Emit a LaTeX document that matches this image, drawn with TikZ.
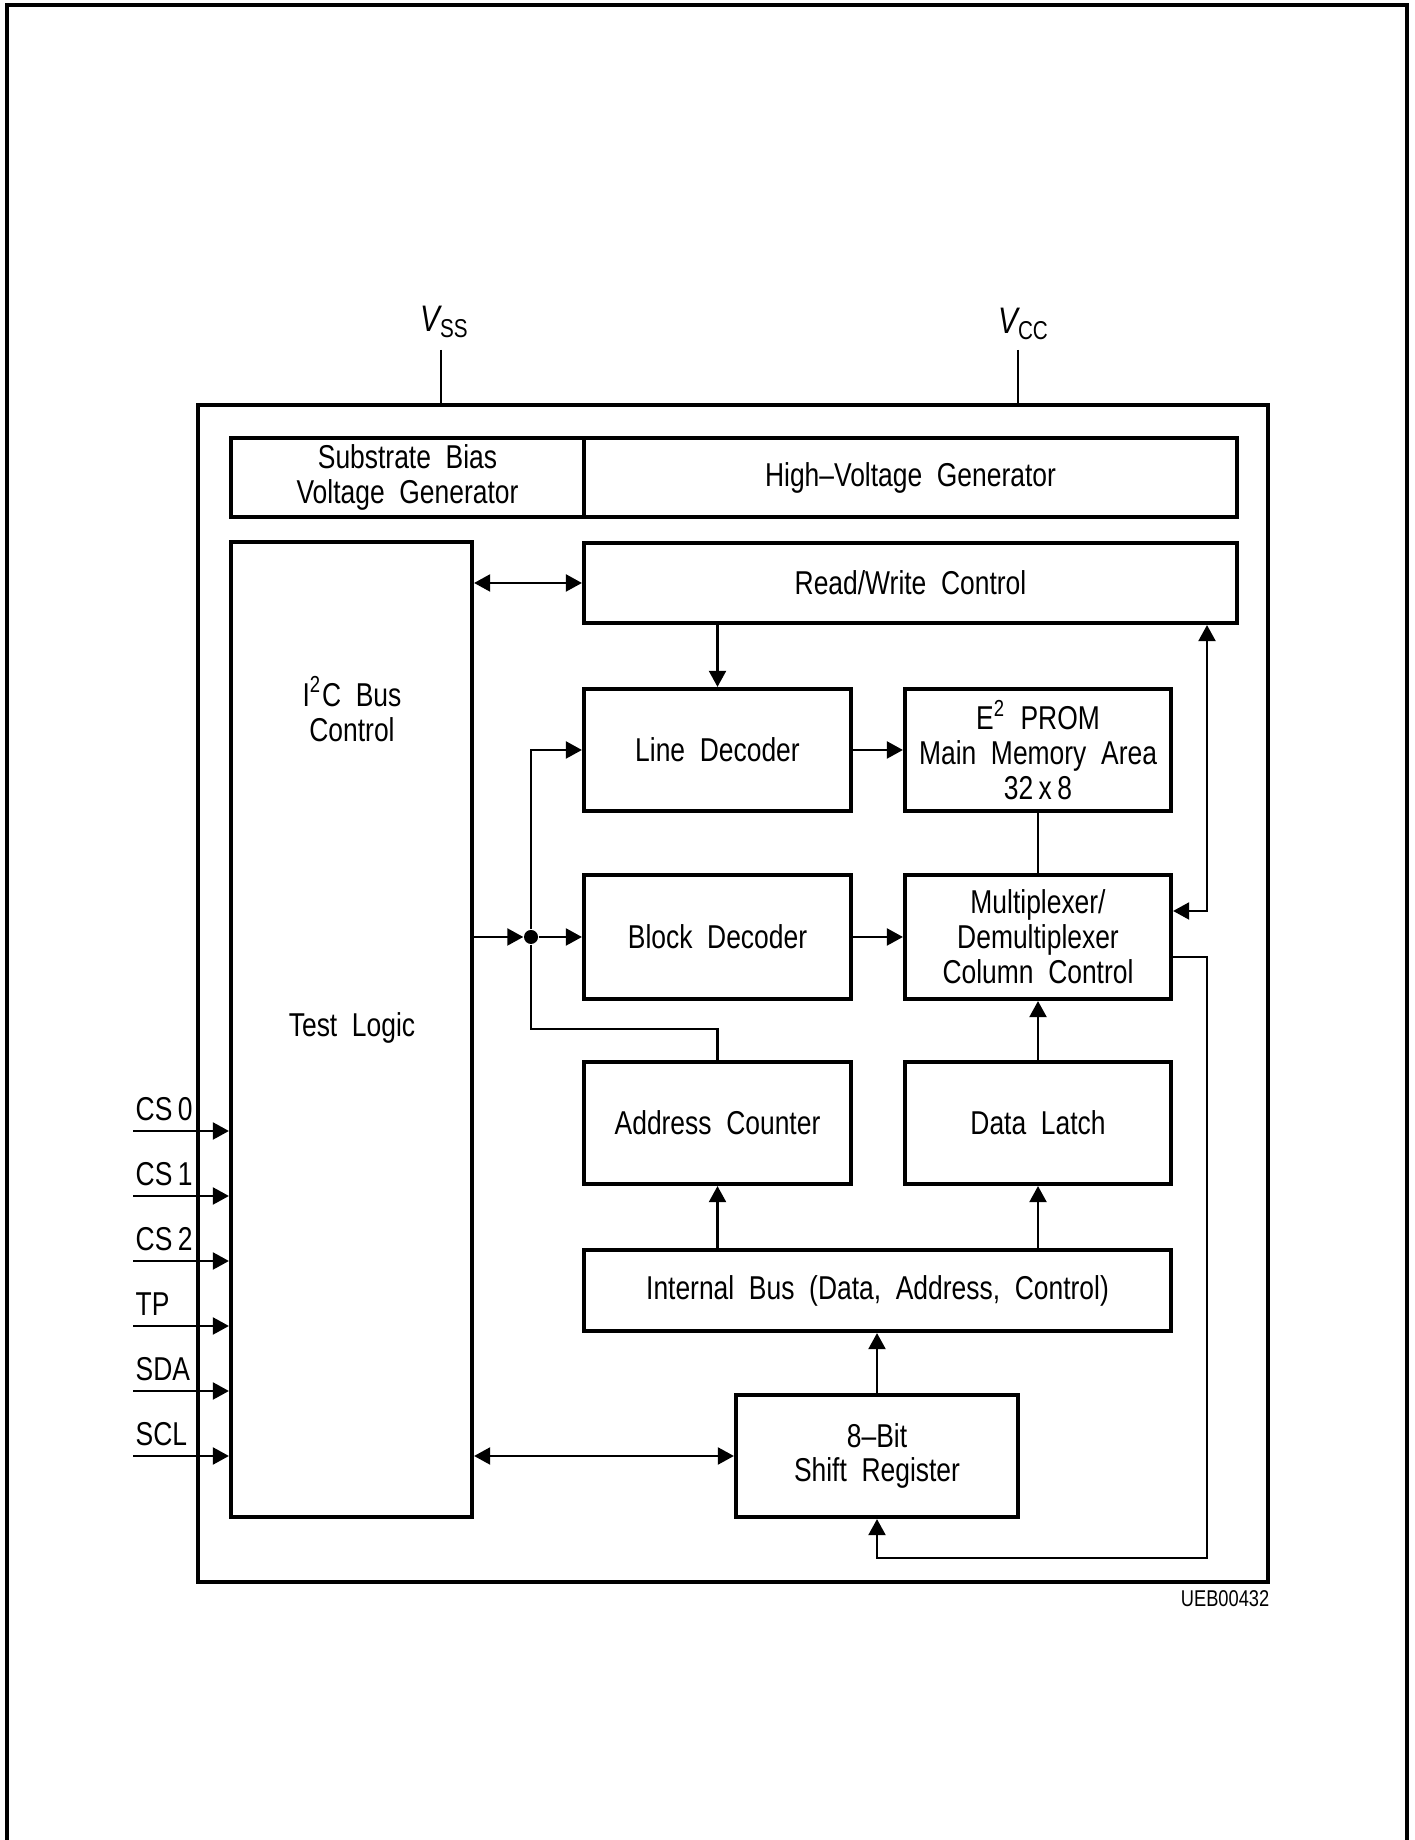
\documentclass[tikz,border=0pt]{standalone}
\usepackage{fontspec}
\setmainfont{Liberation Sans}[FakeStretch=0.80,WordSpace=2]
\usepackage{tikz}
\usetikzlibrary{positioning,arrows.meta,calc}

\begin{document}
\begin{tikzpicture}[x=1cm, y=1cm, font=\fontsize{9.4}{9.9}\selectfont,
  blk/.style={draw, line width=1.2pt, inner sep=1pt, align=center},
  wire/.style={line width=0.6pt},
  arr/.style={wire, -{Triangle[length=0.16cm,width=0.17cm]}},
  darr/.style={wire, {Triangle[length=0.16cm,width=0.17cm]}-{Triangle[length=0.16cm,width=0.17cm]}}]
\useasboundingbox (0,0) rectangle (14.14,18.40);
% page frame
\draw[line width=0.9pt] (0.07,0) -- (0.07,18.35) -- (14.07,18.35) -- (14.07,0);
% chip outline and supply pins
\node[draw, line width=1.2pt, minimum width=10.70cm, minimum height=11.77cm] (chip) at (7.33,8.465) {};
\coordinate (vss) at (4.41,14.90);
\coordinate (vcc) at (10.18,14.90);
\draw[wire] (vss) -- (vss |- chip.north);
\draw[wire] (vcc) -- (vcc |- chip.north);
\node (vsslbl) at (4.45,15.18) {\fontsize{10.5}{12}\selectfont{\itshape V}\textsubscript{SS}};
\node (vcclbl) at (10.24,15.16) {\fontsize{10.5}{12}\selectfont{\itshape V}\textsubscript{CC}};
% blocks
\node[blk, minimum width=3.53cm, minimum height=0.79cm] (sub) at (4.075,13.625) {Substrate Bias\\Voltage Generator};
\node[blk, minimum width=6.53cm, minimum height=0.79cm] (hv) at (9.105,13.625) {High--Voltage Generator};
\node[blk, minimum width=2.41cm, minimum height=9.75cm] (i2c) at (3.515,8.105) {};
\node[align=center] (i2ctxt) at (3.52,11.31) {I\textsuperscript{2}C Bus\\Control};
\node[align=center] (testtxt) at (3.52,8.12) {Test Logic};
\node[blk, minimum width=6.53cm, minimum height=0.80cm] (rw) at (9.105,12.57) {Read/Write Control};
\node[blk, minimum width=2.67cm, minimum height=1.22cm] (ld) at (7.175,10.90) {Line Decoder};
\node[blk, minimum width=2.66cm, minimum height=1.22cm] (ep) at (10.38,10.90) {E\textsuperscript{2} PROM\\Main Memory Area\\32\,x\,8};
\node[blk, minimum width=2.67cm, minimum height=1.24cm] (bd) at (7.175,9.03) {Block Decoder};
\node[blk, minimum width=2.66cm, minimum height=1.24cm] (mx) at (10.38,9.03) {Multiplexer/\\Demultiplexer\\Column Control};
\node[blk, minimum width=2.67cm, minimum height=1.22cm] (ac) at (7.175,7.17) {Address Counter};
\node[blk, minimum width=2.66cm, minimum height=1.22cm] (dl) at (10.38,7.17) {Data Latch};
\node[blk, minimum width=5.87cm, minimum height=0.81cm] (ib) at (8.775,5.495) {Internal Bus (Data, Address, Control)};
\node[blk, minimum width=2.82cm, minimum height=1.22cm] (sr) at (8.77,3.84) {8--Bit\\Shift Register};
\node[anchor=north east, inner sep=0pt, font=\fontsize{6.5}{8}\selectfont] (code) at (12.70,2.50) {UEB00432};
% junction
\node[circle, fill, inner sep=0pt, minimum size=0.14cm] (dot) at (5.31,9.03) {};
% connections
\draw[darr] (i2c.east |- rw.west) -- (rw.west);
\draw[arr] (rw.south -| ld.north) -- (ld.north);
\draw[arr] (ld.east) -- (ep.west);
\draw[wire] (ep.south) -- (mx.north);
\draw[arr] (bd.east) -- (mx.west);
\draw[arr] (i2c.east |- dot) -- (dot);
\draw[arr] (dot) -- (bd.west);
\draw[arr] (dot) |- (ld.west);
\coordinate (acjog) at (5.31,8.11);
\draw[wire] (dot) -- (acjog) -| (ac.north);
\coordinate (rwtap) at (12.07,9.29);
\draw[darr] (rw.south -| rwtap) -- (rwtap) -- (mx.east |- rwtap);
\coordinate (fbtop) at (12.07,8.83);
\coordinate (fbbot) at (12.07,2.82);
\draw[arr] (mx.east |- fbtop) -- (fbtop) -- (fbbot) -| (sr.south);
\draw[arr] (ib.north -| ac.south) -- (ac.south);
\draw[arr] (ib.north -| dl.south) -- (dl.south);
\draw[arr] (dl.north) -- (mx.south);
\draw[arr] (sr.north) -- (ib.south -| sr.north);
\draw[darr] (i2c.east |- sr.west) -- (sr.west);
% pins
\foreach \y/\pin/\lbl in {7.09/cs0/CS\,0, 6.44/cs1/CS\,1, 5.79/cs2/CS\,2, 5.14/tp/TP, 4.49/sda/SDA, 3.84/scl/SCL} {
  \coordinate (\pin) at (1.33,\y);
  \draw[arr] (\pin) -- (i2c.west |- \pin);
  \node[anchor=base west, inner sep=0pt] (\pin lbl) at (1.35,\y+0.10) {\lbl};
}
\end{tikzpicture}
\end{document}
